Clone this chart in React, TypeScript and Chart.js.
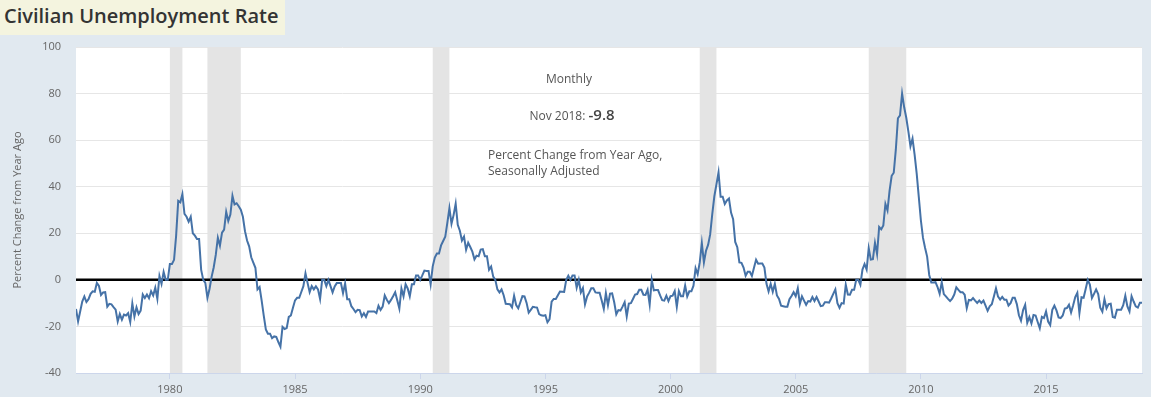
import React, { useEffect, useRef } from "react";
import { Chart, registerables } from "chart.js";

Chart.register(...registerables);

// Monthly series: Civilian Unemployment Rate, percent change from year ago (Apr 1976 – Nov 2018)
const firstYear = 1976;
const firstMonth = 4; // April
const pctChangeFromYearAgo: number[] = [
  /*1976*/ -12.5, -17.8, -13.6, -9.3, -7.1, -9.5, -8.3, -6.0, -4.9,
  /*1977*/ -5.1, -1.3, -2.6, -6.5, -5.4, -5.3, -11.5, -10.3, -10.5, -11.7, -12.8, -17.9,
  /*1978*/ -14.7, -17.1, -14.9, -15.3, -14.3, -18.1, -10.1, -15.7, -11.8, -14.7, -13.2, -6.3,
  /*1979*/ -7.8, -6.3, -7.9, -4.9, -6.7, -3.4, -8.1, 1.7, -1.7, 3.4, 0.0, 0.0,
  /*1980*/ 6.8, 6.8, 8.6, 19.0, 33.9, 33.3, 36.8, 28.3, 27.1, 25.0, 27.1, 20.0,
  /*1981*/ 19.0, 17.5, 17.5, 4.3, 0.0, -1.3, -7.7, -3.9, 1.3, 5.3, 10.7, 18.1,
  /*1982*/ 14.7, 20.3, 21.6, 29.2, 25.3, 28.0, 36.1, 32.4, 32.9, 31.6, 30.1, 27.1,
  /*1983*/ 20.9, 16.9, 14.4, 9.7, 7.4, 5.2, -4.1, -3.1, -8.9, -15.4, -21.3, -23.1,
  /*1984*/ -23.1, -25.0, -24.3, -24.5, -26.7, -28.7, -20.2, -21.1, -20.7, -15.9, -15.3, -12.0,
  /*1985*/ -8.8, -7.7, -7.7, -5.2, -2.7, 2.8, -1.3, -5.3, -2.7, -4.1, -2.8, -4.1,
  /*1986*/ -8.2, 0.0, 0.0, -2.7, 0.0, -2.7, -5.4, -2.8, -1.4, -1.4, -1.4, -5.7,
  /*1987*/ -1.5, -8.3, -8.3, -11.3, -12.5, -13.9, -12.9, -13.0, -15.7, -14.3, -15.9, -13.6,
  /*1988*/ -13.6, -13.6, -13.6, -14.3, -11.1, -12.9, -11.5, -6.7, -8.5, -10.0, -8.6, -7.0,
  /*1989*/ -5.3, -8.8, -12.3, -3.7, -7.1, -1.9, -3.7, -7.1, -1.9, -1.9, 1.9, 1.9,
  /*1990*/ 0.0, 1.9, 4.0, 3.8, 3.8, -1.9, 5.8, 9.6, 11.3, 11.3, 14.8, 16.7,
  /*1991*/ 18.5, 24.5, 30.8, 24.1, 27.8, 32.7, 23.6, 21.1, 16.9, 18.6, 12.9, 15.9,
  /*1992*/ 14.1, 12.1, 8.8, 10.4, 10.1, 13.0, 13.2, 10.1, 10.1, 4.3, 5.7, 1.4,
  /*1993*/ 0.0, -4.1, -5.4, -4.1, -6.6, -10.3, -10.4, -10.5, -11.8, -6.8, -10.8, -12.2,
  /*1994*/ -9.6, -7.0, -7.1, -9.9, -14.1, -12.9, -11.6, -11.8, -11.9, -14.7, -15.2, -15.4,
  /*1995*/ -15.2, -18.2, -16.9, -9.4, -8.2, -8.2, -6.6, -5.0, -5.1, -5.2, 0.0, 1.8,
  /*1996*/ 0.0, 1.9, 1.9, -3.4, 0.0, -5.4, -3.5, -10.5, -7.1, -5.5, -3.6, -3.6,
  /*1997*/ -5.4, -5.5, -5.5, -8.9, -12.5, -5.7, -10.9, -5.9, -5.8, -9.6, -14.8, -13.0,
  /*1998*/ -13.2, -11.5, -9.6, -15.7, -10.2, -10.0, -8.2, -6.3, -6.1, -4.3, -4.3, -6.4,
  /*1999*/ -6.5, -4.3, -10.6, 0.0, -4.5, -4.4, -4.4, -6.7, -8.7, -8.9, -6.8, -9.1,
  /*2000*/ -7.0, -6.8, -4.8, -11.6, -4.8, -7.0, -7.0, -2.4, -7.1, -4.9, -4.9, -2.5,
  /*2001*/ 5.0, 2.4, 7.5, 15.8, 7.5, 12.5, 15.0, 19.5, 28.2, 35.9, 41.0, 46.2,
  /*2002*/ 35.7, 35.7, 32.6, 34.1, 34.9, 28.9, 26.1, 16.3, 14.0, 7.5, 7.3, 5.3,
  /*2003*/ 1.8, 3.5, 3.5, 1.7, 5.2, 8.6, 6.9, 7.0, 7.0, 5.3, -1.7, -5.0,
  /*2004*/ -1.7, -5.1, -1.7, -6.7, -8.2, -11.1, -11.3, -11.5, -11.5, -8.3, -6.9, -5.3,
  /*2005*/ -7.0, -3.6, -10.3, -7.1, -8.9, -10.7, -9.1, -9.3, -7.4, -9.1, -7.4, -9.3,
  /*2006*/ -11.3, -11.1, -9.6, -9.6, -9.8, -8.0, -6.0, -4.1, -10.0, -12.0, -10.0, -10.2,
  /*2007*/ -2.1, -6.3, -6.4, -4.3, -4.3, 0.0, 0.0, -2.1, 4.4, 6.8, 4.4, 13.6,
  /*2008*/ 8.7, 8.9, 15.9, 11.1, 22.7, 21.7, 23.4, 32.6, 29.8, 38.3, 44.7, 46.0,
  /*2009*/ 56.0, 69.4, 70.6, 80.0, 74.1, 69.6, 63.8, 57.4, 60.7, 53.8, 45.6, 35.6,
  /*2010*/ 25.6, 18.1, 13.8, 10.0, 2.1, -1.1, -1.1, -1.0, -3.1, -6.0, -1.0, -6.1,
  /*2011*/ -7.1, -8.2, -9.1, -8.1, -6.3, -3.2, -4.3, -5.3, -5.3, -6.4, -12.2, -8.6,
  /*2012*/ -8.8, -7.8, -8.9, -9.9, -8.9, -9.9, -8.9, -11.1, -13.3, -11.4, -10.5, -7.1,
  /*2013*/ -3.6, -7.2, -8.5, -7.3, -8.5, -8.5, -11.0, -10.0, -7.7, -7.7, -10.4, -15.2,
  /*2014*/ -17.5, -13.0, -10.7, -18.4, -16.0, -18.7, -15.1, -15.3, -18.1, -20.8, -15.9, -16.4,
  /*2015*/ -13.6, -17.9, -19.4, -12.9, -11.1, -13.1, -16.1, -16.4, -15.3, -12.3, -12.1, -10.7,
  /*2016*/ -14.0, -10.9, -7.4, -5.6, -14.3, -7.5, -7.7, -3.9, 0.0, -2.0, -7.8, -6.0,
  /*2017*/ -4.1, -6.1, -12.0, -13.7, -8.3, -12.2, -10.4, -10.2, -16.0, -16.3, -12.8, -12.8,
  /*2018*/ -12.8, -10.9, -6.8, -11.4, -13.6, -7.0, -9.3, -11.4, -11.9, -9.8, -9.8,
];

const xTickYears = [1980, 1985, 1990, 1995, 2000, 2005, 2010, 2015];
const yMin = -40;
const yMax = 100;
const yStep = 20;

// Recession periods (peak month to trough month)
const recessionStarts = ["1980-01", "1981-07", "1990-07", "2001-03", "2007-12"];
const recessionEnds = ["1980-07", "1982-11", "1991-03", "2001-11", "2009-06"];

const latestLabel = "Nov 2018:";
const latestValue = "-9.8";

const ymToX = (s: string) => {
  const [y, m] = s.split("-").map(Number);
  return y + (m - 1) / 12;
};

const points = pctChangeFromYearAgo.map((v, i) => ({
  x: firstYear + (firstMonth - 1 + i) / 12,
  y: v,
}));

const FONT = "'Open Sans', 'DejaVu Sans', sans-serif";

export default function App() {
  const canvasRef = useRef<HTMLCanvasElement | null>(null);

  useEffect(() => {
    document.body.style.margin = "0";
    const canvas = canvasRef.current;
    if (!canvas) return;

    const bgPlugin = {
      id: "fredBg",
      beforeDraw(chart: any) {
        const { ctx, chartArea, width, height } = chart;
        ctx.save();
        ctx.fillStyle = "#e1e9f0";
        ctx.fillRect(0, 0, width, height);
        ctx.fillStyle = "#ffffff";
        ctx.fillRect(chartArea.left, chartArea.top, chartArea.right - chartArea.left, chartArea.bottom - chartArea.top);
        ctx.restore();
      },
      beforeDatasetsDraw(chart: any) {
        const { ctx, chartArea, scales } = chart;
        const xs = scales.x;
        const ys = scales.y;
        ctx.save();
        ctx.fillStyle = "#e4e4e4";
        recessionStarts.forEach((s, i) => {
          const x0 = xs.getPixelForValue(ymToX(s));
          const x1 = xs.getPixelForValue(ymToX(recessionEnds[i]));
          ctx.fillRect(x0, chartArea.top, x1 - x0, chartArea.bottom - chartArea.top);
        });
        const y0 = ys.getPixelForValue(0);
        ctx.strokeStyle = "#000000";
        ctx.lineWidth = 2.5;
        ctx.beginPath();
        ctx.moveTo(chartArea.left, y0);
        ctx.lineTo(chartArea.right, y0);
        ctx.stroke();
        ctx.restore();
      },
    };

    const chart = new Chart(canvas, {
      type: "line",
      data: {
        datasets: [
          {
            data: points,
            borderColor: "#4572a7",
            borderWidth: 2,
            pointRadius: 0,
            tension: 0,
            fill: false,
          },
        ],
      },
      options: {
        animation: false,
        responsive: false,
        maintainAspectRatio: false,
        layout: { padding: { top: 47, right: 9, bottom: 0, left: 0 } },
        plugins: {
          legend: { display: false },
          tooltip: { enabled: false },
          title: { display: false },
        },
        scales: {
          x: {
            type: "linear",
            min: points[0].x,
            max: points[points.length - 1].x,
            afterFit: (s: any) => {
              s.height = 24;
            },
            afterBuildTicks: (s: any) => {
              s.ticks = xTickYears.map((v) => ({ value: v }));
            },
            ticks: {
              callback: (v: any) => String(v),
              color: "#666666",
              font: { family: FONT, size: 11 },
              padding: 4,
              maxRotation: 0,
              autoSkip: false,
            },
            grid: {
              drawOnChartArea: false,
              drawTicks: true,
              tickLength: 6,
              color: "#ccd6eb",
            },
            border: { display: true, color: "#ccd6eb" },
          },
          y: {
            min: yMin,
            max: yMax,
            afterFit: (s: any) => {
              s.width = 76;
            },
            ticks: {
              stepSize: yStep,
              color: "#666666",
              font: { family: FONT, size: 11 },
              padding: 15,
            },
            grid: { color: "#e6e6e6", drawTicks: false },
            border: { display: false },
            title: {
              display: true,
              text: "Percent Change from Year Ago",
              color: "#666666",
              font: { family: FONT, size: 11 },
              padding: { top: 11, bottom: 0 },
            },
          },
        },
      } as any,
      plugins: [bgPlugin],
    });

    return () => chart.destroy();
  }, []);

  const annot: React.CSSProperties = {
    position: "absolute",
    fontFamily: FONT,
    fontSize: 12,
    color: "#555555",
    whiteSpace: "nowrap",
    lineHeight: "16px",
  };

  return (
    <div style={{ position: "relative", width: 1151, height: 397, overflow: "hidden" }}>
      <canvas ref={canvasRef} width={1151} height={397} style={{ display: "block", width: 1151, height: 397 }} />
      <div
        style={{
          position: "absolute",
          left: 0,
          top: 0,
          width: 285,
          height: 35,
          background: "#f4f4df",
          fontFamily: FONT,
          fontWeight: 600,
          fontSize: 20,
          color: "#333333",
          lineHeight: "32px",
          paddingLeft: 4,
          boxSizing: "border-box",
          whiteSpace: "nowrap",
        }}
      >
        Civilian Unemployment Rate
      </div>
      <div style={{ ...annot, left: 469, width: 200, textAlign: "center", top: 71 }}>Monthly</div>
      <div style={{ ...annot, left: 472, width: 200, textAlign: "center", top: 104, lineHeight: "20px" }}>
        {latestLabel} <span style={{ fontSize: 15, fontWeight: 600, color: "#444444" }}>{latestValue}</span>
      </div>
      <div style={{ ...annot, left: 488, top: 147 }}>
        Percent Change from Year Ago,
        <br />
        Seasonally Adjusted
      </div>
    </div>
  );
}
